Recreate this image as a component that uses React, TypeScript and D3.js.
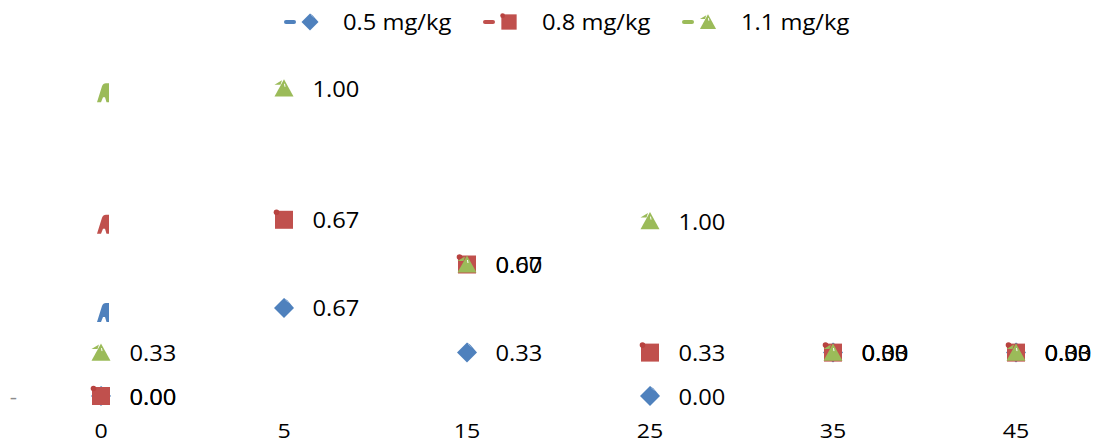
import React from "react";
import * as d3 from "d3";

const categories = ["0", "5", "15", "25", "35", "45"];
const seriesNames = ["0.5 mg/kg", "0.8 mg/kg", "1.1 mg/kg"];
const dose05 = [0, 0.67, 0.33, 0, 0.33, 0.33];
const dose08 = [0, 0.67, 0.67, 0.33, 0, 0];
const dose11 = [0.33, 1.0, 0, 1.0, 0, 0];
const yTickLabels = ["-"];

const COLORS = ["#4F81BD", "#C0504D", "#9BBB59"];
const FONT = "'Open Sans', 'Noto Sans', sans-serif";
const SX = 1.13;

const W = 1099;
const H = 445;

function markerPath(kind: number, s: number): string {
  if (kind === 0) {
    return `M0,${-s} L${s * 0.35},${-s * 0.75} L${s},0 L0,${s} L${-s},0 Z`;
  }
  if (kind === 1) {
    const h = s * 0.9;
    return `M${-h},${-h} L${h},${-h} L${h},${h} L${-h},${h} Z`;
  }
  const h = s * 0.9;
  return `M0,${-h} L${s * 0.95},${h * 0.9} L${-s * 0.95},${h * 0.9} Z`;
}

function Marker({ kind, x, y, s }: { kind: number; x: number; y: number; s: number }) {
  const c = COLORS[kind];
  return (
    <g transform={`translate(${x},${y})`}>
      <path d={markerPath(kind, s)} fill={c} />
      {kind === 1 && <circle cx={-s * 0.75} cy={-s * 0.75} r={s * 0.28} fill="#b8423f" />}
      {kind === 2 && (
        <>
          <path d={`M${-s * 0.2},${-s * 0.8} L${-s * 0.95},${-s * 0.35} L${-s * 0.35},${-s * 0.35} Z`} fill={c} />
          <line x1={s * 0.05} y1={-s * 0.45} x2={s * 0.1} y2={-s * 0.15} stroke="#fff" strokeWidth={1} />
        </>
      )}
      {kind === 0 && (
        <line x1={s * 0.1} y1={-s * 0.85} x2={s * 0.45} y2={-s * 0.55} stroke="#8fb0d8" strokeWidth={1} />
      )}
    </g>
  );
}

export default function App() {
  const rows = categories.map((c, i) => ({
    cat: c,
    s0: dose05[i],
    s1: dose08[i],
    s2: dose11[i],
  }));
  const keys = ["s0", "s1", "s2"];
  const stacked = d3.stack<any>().keys(keys)(rows);
  const raw = [dose05, dose08, dose11];

  const x = d3.scalePoint<string>().domain(categories).range([101, 1016]);
  const y = d3.scaleLinear().domain([0, 3]).range([396, 1.5]);
  const fmt = d3.format(".2f");

  const legendX = d3.scaleLinear().domain([0, 1]).range([285, 484]);

  return (
    <svg
      width={W}
      height={H}
      style={{ position: "absolute", left: 0, top: 0, background: "#fff" }}
      fontFamily={FONT}
    >
      <rect width={W} height={H} fill="#fff" />

      {yTickLabels.map((t, i) => (
        <text key={i} transform={`translate(17,${y(0) + 8}) scale(${SX},1)`} textAnchor="end" fontSize={20} fill="#8c8c8c">
          {t}
        </text>
      ))}

      {categories.map((c) => (
        <text
          key={c}
          transform={`translate(${x(c)},${y(0) + 42}) scale(${SX},1)`}
          textAnchor="middle"
          fontSize={20.5}
          fill="#000"
        >
          {c}
        </text>
      ))}

      {stacked.map((layer, k) => {
        const gx = (x(categories[0]) as number) + 2;
        const gy = y(layer[1][1]) + 5;
        return (
          <path
            key={"g" + k}
            transform={`translate(${gx},${gy})`}
            d="M-6,9 L-1,-7 Q0,-10 3,-10 L6,-10 L6,9 L3.5,9 L2,4 L0,4 L-2,9 Z"
            fill={COLORS[k]}
          />
        );
      })}

      {stacked.map((layer, k) =>
        layer.map((d, i) => (
          <Marker key={`m${k}-${i}`} kind={k} x={x(categories[i]) as number} y={y(d[1])} s={10} />
        ))
      )}

      {stacked.map((layer, k) =>
        layer.map((d, i) => (
          <text
            key={`l${k}-${i}`}
            transform={`translate(${(x(categories[i]) as number) + 28.5},${y(d[1]) + 8.5}) scale(${SX},1)`}
            fontSize={21}
            fill="#000"
          >
            {fmt(raw[k][i])}
          </text>
        ))
      )}

      {seriesNames.map((n, k) => {
        const lx = legendX(k);
        return (
          <g key={n}>
            <line x1={lx + 1} x2={lx + 9} y1={22} y2={22} stroke={COLORS[k]} strokeWidth={4} strokeLinecap="round" />
            <Marker kind={k} x={lx + 25} y={22} s={8.5} />
            <text transform={`translate(${lx + 58},${30}) scale(${SX},1)`} fontSize={21} fill="#000">
              {n}
            </text>
          </g>
        );
      })}
    </svg>
  );
}
